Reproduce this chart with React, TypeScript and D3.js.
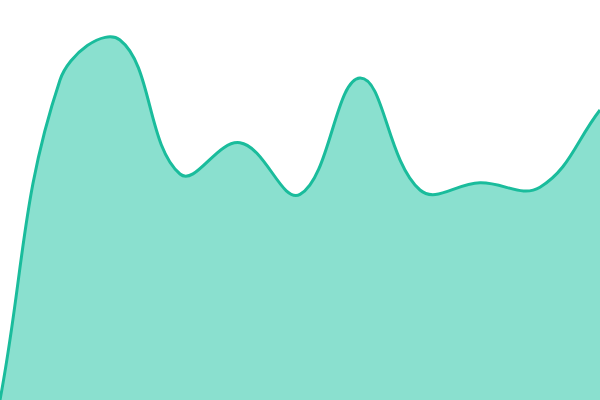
import React from "react";
import * as d3 from "d3";

const xs = [0, 1, 2, 3, 4, 5, 6, 7, 8, 9, 10];
const values = [0, 80, 90, 56.5, 64.3, 51.4, 80.5, 52.5, 54.3, 53.2, 72.5];

const W = 600;
const H = 400;

// Spline curve with distance-weighted tangents (tension 0.4), as a d3 curve factory.
function splineCurve(tension: number) {
  return function (context: any) {
    let pts: [number, number][] = [];
    let line = NaN;
    return {
      areaStart() {
        line = 0;
      },
      areaEnd() {
        line = NaN;
      },
      lineStart() {
        pts = [];
      },
      lineEnd() {
        const n = pts.length;
        if (n) {
          if (line) context.lineTo(pts[0][0], pts[0][1]);
          else context.moveTo(pts[0][0], pts[0][1]);
          const cps: { px: number; py: number; nx: number; ny: number }[] = [];
          for (let i = 0; i < n; i++) {
            const prev = pts[Math.max(i - 1, 0)];
            const cur = pts[i];
            const next = pts[Math.min(i + 1, n - 1)];
            const d01 = Math.hypot(cur[0] - prev[0], cur[1] - prev[1]);
            const d12 = Math.hypot(next[0] - cur[0], next[1] - cur[1]);
            let s01 = d01 / (d01 + d12);
            let s12 = d12 / (d01 + d12);
            if (isNaN(s01)) s01 = 0;
            if (isNaN(s12)) s12 = 0;
            const fa = tension * s01;
            const fb = tension * s12;
            const clampX = (v: number) => Math.max(0, Math.min(W, v));
            const clampY = (v: number) => Math.max(0, Math.min(H, v));
            cps.push({
              px: clampX(cur[0] - fa * (next[0] - prev[0])),
              py: clampY(cur[1] - fa * (next[1] - prev[1])),
              nx: clampX(cur[0] + fb * (next[0] - prev[0])),
              ny: clampY(cur[1] + fb * (next[1] - prev[1])),
            });
          }
          for (let i = 1; i < n; i++) {
            context.bezierCurveTo(
              cps[i - 1].nx,
              cps[i - 1].ny,
              cps[i].px,
              cps[i].py,
              pts[i][0],
              pts[i][1]
            );
          }
        }
        if (line || (line !== 0 && n === 1)) context.closePath();
        line = 1 - line;
      },
      point(x: number, y: number) {
        pts.push([+x, +y]);
      },
    };
  };
}

export default function App() {
  const x = d3.scaleLinear().domain([0, 10]).range([0, W]);
  const y = d3.scaleLinear().domain([0, 100]).range([H, 0]);
  const data = xs.map((d, i) => ({ x: d, v: values[i] }));
  const curve = splineCurve(0.4) as any;
  const area = d3
    .area<{ x: number; v: number }>()
    .x((d) => x(d.x))
    .y0(H)
    .y1((d) => y(d.v))
    .curve(curve);
  const line = d3
    .line<{ x: number; v: number }>()
    .x((d) => x(d.x))
    .y((d) => y(d.v))
    .curve(curve);
  return (
    <svg
      width={W}
      height={H}
      style={{ position: "fixed", left: 0, top: 0, display: "block" }}
    >
      <rect width={W} height={H} fill="#ffffff" />
      <path d={area(data) || ""} fill="#8AE0CF" />
      <path d={line(data) || ""} fill="none" stroke="#1ABC9C" strokeWidth={3} />
    </svg>
  );
}
